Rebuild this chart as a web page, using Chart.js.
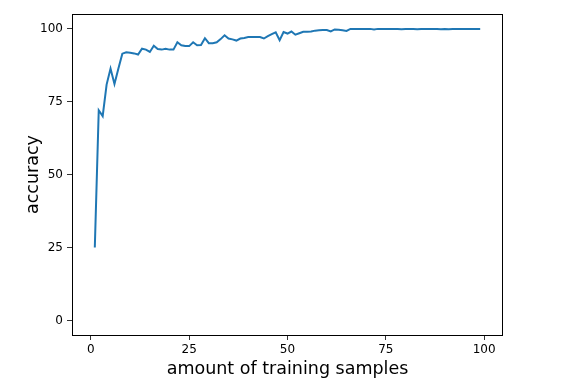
<!DOCTYPE html>
<html>
<head>
<meta charset="utf-8">
<script src="https://cdn.jsdelivr.net/npm/chart.js@4/dist/chart.umd.min.js"></script>
<style>
  html, body { margin: 0; padding: 0; background: #fff; }
  #wrap { width: 580px; height: 385px; }
</style>
</head>
<body>
<div id="wrap"><canvas id="chart" width="580" height="385"></canvas></div>
<script>
// amount of training samples (1..99) and accuracy
var samples = [];
for (var n = 1; n <= 99; n++) samples.push(n);

var accuracy = [
    25, 72, 70, 80.8, 86.3, 81, 86.3, 91.4, 91.9, 91.7,
    91.5, 91.1, 93.1, 92.8, 92, 94.1, 93, 92.8, 93.1, 92.8,
    92.8, 95.3, 94.3, 94, 94, 95.3, 94.3, 94.4, 96.7, 95,
    95, 95.3, 96.4, 97.7, 96.6, 96.3, 95.9, 96.6, 96.8, 97.1,
    97.1, 97.1, 97.1, 96.6, 97.4, 98.1, 98.7, 96, 98.8, 98.3,
    99, 97.9, 98.4, 98.9, 98.9, 99, 99.3, 99.4, 99.5, 99.5,
    99, 99.7, 99.6, 99.4, 99.2, 99.9, 99.9, 99.9, 99.9, 99.9,
    99.9, 99.7, 99.9, 99.9, 99.9, 99.9, 99.9, 99.9, 99.8, 99.9,
    99.9, 99.9, 99.8, 99.9, 99.9, 99.9, 99.9, 99.9, 99.8, 99.9,
    99.8, 99.9, 99.9, 99.9, 99.9, 99.9, 99.9, 99.9, 99.9
];

var xTicks = [0, 25, 50, 75, 100];
var yTicks = [0, 25, 50, 75, 100];

var points = [];
for (var i = 0; i < samples.length; i++) {
    points.push({ x: samples[i], y: accuracy[i] });
}

// matplotlib-style box around the plot area
var frame = {
    id: 'frame',
    afterDraw: function (chart) {
        var a = chart.chartArea;
        var ctx = chart.ctx;
        ctx.save();
        ctx.strokeStyle = '#000';
        ctx.lineWidth = 1;
        ctx.strokeRect(a.left + 0.5, a.top + 0.5, a.right - a.left - 1, a.bottom - a.top);
        ctx.restore();
    }
};

var tickFont = { family: 'DejaVu Sans', size: 12 };
var titleFont = { family: 'DejaVu Sans', size: 17.5 };

new Chart(document.getElementById('chart'), {
    type: 'line',
    data: {
        datasets: [{
            data: points,
            borderColor: '#1f77b4',
            borderWidth: 2,
            pointRadius: 0,
            tension: 0,
            fill: false
        }]
    },
    options: {
        responsive: false,
        animation: false,
        layout: { padding: { top: 14, right: 77, left: 0, bottom: 0 } },
        plugins: { legend: { display: false }, tooltip: { enabled: false } },
        scales: {
            x: {
                type: 'linear',
                min: -4.8,
                max: 104.8,
                afterBuildTicks: function (scale) {
                    scale.ticks = xTicks.map(function (v) { return { value: v }; });
                },
                afterFit: function (scale) { scale.height = 50; },
                grid: { drawOnChartArea: false, drawTicks: true, tickLength: 5, tickColor: '#333' },
                border: { display: false },
                ticks: { font: tickFont, color: '#000', padding: 3, maxRotation: 0 },
                title: { display: true, text: 'amount of training samples', font: titleFont, color: '#000', padding: { top: 0, bottom: 5 } }
            },
            y: {
                type: 'linear',
                min: -5,
                max: 105,
                afterBuildTicks: function (scale) {
                    scale.ticks = yTicks.map(function (v) { return { value: v }; });
                },
                afterFit: function (scale) { scale.width = 72; },
                grid: { drawOnChartArea: false, drawTicks: true, tickLength: 5, tickColor: '#333' },
                border: { display: false },
                ticks: { font: tickFont, color: '#000', padding: 4 },
                title: { display: true, text: 'accuracy', font: titleFont, color: '#000', padding: { top: 23, bottom: 0 } }
            }
        }
    },
    plugins: [frame]
});
</script>
</body>
</html>
